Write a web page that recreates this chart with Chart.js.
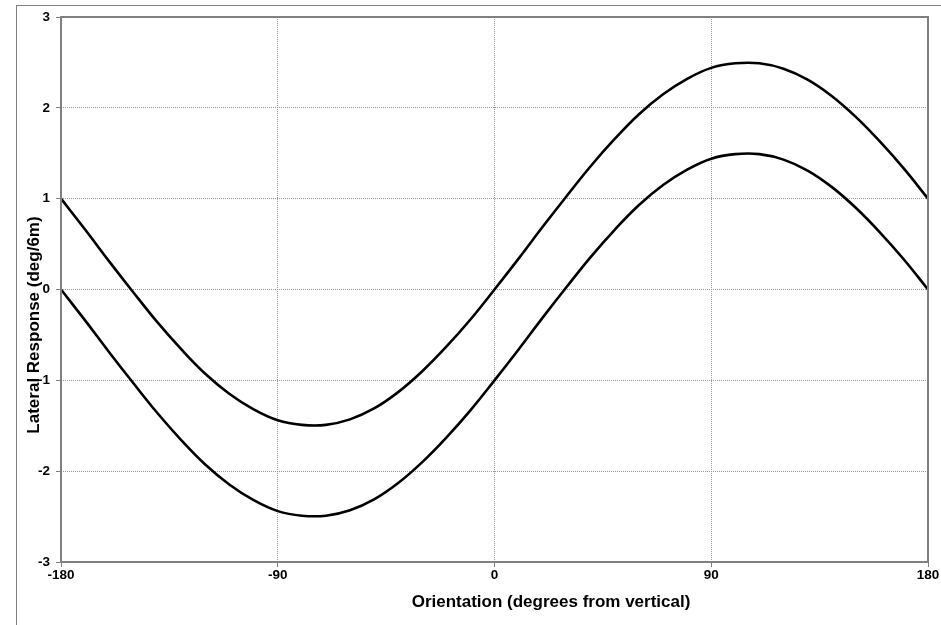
<!DOCTYPE html>
<html>
<head>
<meta charset="utf-8">
<script src="https://cdn.jsdelivr.net/npm/chart.js@4/dist/chart.umd.min.js"></script>
<style>
    body { margin: 0; background: #fff; }
    #wrap { position: relative; width: 941px; height: 625px; }
    #frame { position: absolute; left: 16px; top: 5px; right: -2px; bottom: -2px; border-left: 1px solid #808080; border-top: 1px solid #808080; }
    canvas { position: absolute; left: 0; top: 0; }
</style>
</head>
<body>
<div id="wrap">
    <div id="frame"></div>
    <canvas id="responseChart" width="941" height="625"></canvas>
</div>
<script>
// Orientación (grados) y respuesta lateral
const orientation = [-180, -170, -160, -150, -140, -130, -120, -110, -100, -90, -80, -70, -60, -50, -40, -30, -20, -10,
    0, 10, 20, 30, 40, 50, 60, 70, 80, 90, 100, 110, 120, 130, 140, 150, 160, 170, 180];
const upperCurve = [1.00, 0.66, 0.31, -0.03, -0.36, -0.66, -0.93, -1.15, -1.32, -1.44, -1.49, -1.49, -1.43, -1.31, -1.13, -0.90, -0.63, -0.33,
    0.00, 0.34, 0.69, 1.03, 1.36, 1.66, 1.93, 2.15, 2.32, 2.44, 2.49, 2.49, 2.43, 2.31, 2.13, 1.90, 1.63, 1.33, 1.00];
const lowerCurve = [0.00, -0.34, -0.69, -1.03, -1.36, -1.66, -1.93, -2.15, -2.32, -2.44, -2.49, -2.49, -2.43, -2.31, -2.13, -1.90, -1.63, -1.33,
    -1.00, -0.66, -0.31, 0.03, 0.36, 0.66, 0.93, 1.15, 1.32, 1.44, 1.49, 1.49, 1.43, 1.31, 1.13, 0.90, 0.63, 0.33, 0.00];
const xTicks = [-180, -90, 0, 90, 180];
const yTicks = [-3, -2, -1, 0, 1, 2, 3];
const xTitle = 'Orientation (degrees from vertical)';
const yTitle = 'Lateral Response (deg/6m)';

function toPoints(xs, ys) {
    return xs.map(function(x, i) { return { x: x, y: ys[i] }; });
}

const titleFont = 'bold 17px "Liberation Sans", Arial, sans-serif';

// Marco sólido alrededor del área de trazado y títulos de los ejes
const plotFrame = {
    id: 'plotFrame',
    afterDatasetsDraw: function(chart) {
        const a = chart.chartArea;
        const ctx = chart.ctx;
        ctx.save();
        ctx.strokeStyle = '#808080';
        ctx.lineWidth = 2;
        ctx.strokeRect(a.left, a.top, a.right - a.left, a.bottom - a.top);
        ctx.restore();
    },
    afterDraw: function(chart) {
        const ctx = chart.ctx;
        ctx.save();
        ctx.fillStyle = '#000';
        ctx.font = titleFont;
        ctx.textAlign = 'center';
        ctx.textBaseline = 'middle';
        ctx.fillText(xTitle, 551, 602);
        ctx.translate(34, 325);
        ctx.rotate(-Math.PI / 2);
        ctx.fillText(yTitle, 0, 0);
        ctx.restore();
    }
};

const lineStyle = { borderColor: '#000', borderWidth: 2.6, pointRadius: 0, tension: 0.4, fill: false };
const tickFont = { family: 'Liberation Sans, Arial', size: 13.5, weight: 'bold' };

new Chart(document.getElementById('responseChart'), {
    type: 'line',
    data: {
        datasets: [
            Object.assign({ label: 'Upper', data: toPoints(orientation, upperCurve) }, lineStyle),
            Object.assign({ label: 'Lower', data: toPoints(orientation, lowerCurve) }, lineStyle)
        ]
    },
    options: {
        responsive: false,
        animation: false,
        layout: { padding: { top: 17, right: 13, bottom: 0, left: 0 } },
        plugins: {
            legend: { display: false },
            tooltip: { enabled: false }
        },
        scales: {
            x: {
                type: 'linear',
                min: -180,
                max: 180,
                afterBuildTicks: function(scale) { scale.ticks = xTicks.map(function(v) { return { value: v }; }); },
                afterFit: function(scale) { scale.height = 63; },
                grid: { color: '#999', lineWidth: 1, tickLength: 5, tickColor: '#808080' },
                border: { display: false, dash: [1, 1] },
                ticks: { color: '#000', padding: 0, maxRotation: 0, font: tickFont }
            },
            y: {
                min: -3,
                max: 3,
                afterBuildTicks: function(scale) { scale.ticks = yTicks.map(function(v) { return { value: v }; }); },
                afterFit: function(scale) { scale.width = 61; },
                grid: { color: '#999', lineWidth: 1, tickLength: 5, tickColor: '#808080' },
                border: { display: false, dash: [1, 1] },
                ticks: { color: '#000', padding: 6, font: tickFont }
            }
        }
    },
    plugins: [plotFrame]
});
</script>
</body>
</html>
